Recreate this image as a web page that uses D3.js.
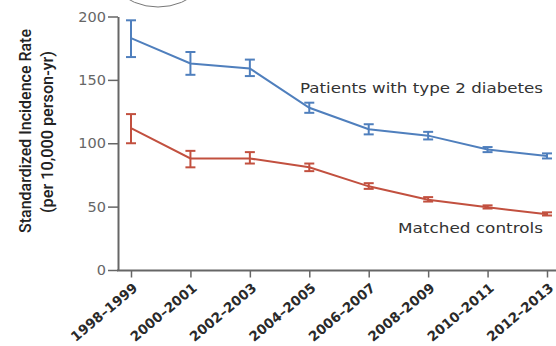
<!DOCTYPE html>
<html>
<head>
<meta charset="utf-8">
<script src="https://cdn.jsdelivr.net/npm/d3@7"></script>
<style>
  html, body { margin: 0; padding: 0; background: #fff; }
  svg { display: block; }
</style>
</head>
<body>
<svg id="chart" width="556" height="346"></svg>
<script>
// Two-year reporting periods
const periods = ["1998–1999", "2000–2001", "2002–2003", "2004–2005",
                 "2006–2007", "2008–2009", "2010–2011", "2012–2013"];

// Standardized incidence per 10,000 person-years, with 95% CI bounds
const diabetesRate = [183, 163, 159, 128, 111, 106, 95, 90];
const diabetesLow  = [168, 154, 153, 124, 107, 103, 93, 88];
const diabetesHigh = [197, 172, 166, 132, 115, 109, 97, 92];

const controlRate = [112, 88, 88, 81, 66, 55.5, 49.5, 44];
const controlLow  = [100, 81, 84, 78, 64, 54, 48.5, 43];
const controlHigh = [123, 94, 93, 84, 68.5, 57.5, 51, 45.5];

const yTicks = [0, 50, 100, 150, 200];

const series = [
  { name: "Patients with type 2 diabetes", values: diabetesRate, low: diabetesLow, high: diabetesHigh, color: "#4F7FBD" },
  { name: "Matched controls", values: controlRate, low: controlLow, high: controlHigh, color: "#C2503F" }
];

const W = 556, H = 346;
const axisX = 118, axisY = 270.5;
const svg = d3.select("#chart");

const x = d3.scalePoint().domain(periods).range([131, 547]);
const y = d3.scaleLinear().domain([0, 200]).range([270, 16.5]);

// decorative arc peeking in at the top edge
svg.append("circle")
  .attr("cx", 158).attr("cy", -54.5).attr("r", 61.5)
  .attr("fill", "none").attr("stroke", "#777").attr("stroke-width", 1);

// y axis
const yAxis = svg.append("g")
  .attr("transform", `translate(${axisX},0)`)
  .call(d3.axisLeft(y).tickValues(yTicks).tickSize(10).tickSizeOuter(0).tickPadding(2));
yAxis.select(".domain").attr("stroke", "#666").attr("stroke-width", 2);
yAxis.selectAll(".tick line").attr("stroke", "#666").attr("stroke-width", 1.5);
yAxis.selectAll(".tick text")
  .attr("fill", "#666").attr("font-family", "DejaVu Sans, sans-serif").attr("font-size", 14.5);

// x axis
const xAxis = svg.append("g")
  .attr("transform", `translate(0,${axisY})`)
  .call(d3.axisBottom(x).tickSize(7).tickSizeOuter(0));
xAxis.select(".domain").remove();
xAxis.append("line")
  .attr("x1", axisX - 1).attr("x2", W).attr("y1", 0).attr("y2", 0)
  .attr("stroke", "#666").attr("stroke-width", 2);
xAxis.selectAll(".tick line").attr("stroke", "#666").attr("stroke-width", 1.5);
xAxis.selectAll(".tick text")
  .attr("fill", "#2a2a2a")
  .attr("font-family", "DejaVu Sans, sans-serif")
  .attr("font-weight", "bold")
  .attr("font-size", 13.5)
  .attr("text-anchor", "end")
  .attr("transform", "translate(7,19) rotate(-40)")
  .attr("dy", 0)
  .attr("y", 0).attr("x", 0);

// y axis title
const title = svg.append("g").attr("font-family", "Roboto, sans-serif").attr("fill", "#222").attr("font-weight", 500);
title.append("text")
  .attr("transform", `translate(31,131) rotate(-90)`)
  .attr("text-anchor", "middle").attr("font-size", 16)
  .attr("textLength", 204).attr("lengthAdjust", "spacingAndGlyphs")
  .text("Standardized Incidence Rate");
title.append("text")
  .attr("transform", `translate(53,132) rotate(-90)`)
  .attr("text-anchor", "middle").attr("font-size", 16)
  .attr("textLength", 162).attr("lengthAdjust", "spacingAndGlyphs")
  .text("(per 10,000 person-yr)");

// lines with error bars
const line = d3.line().x((d, i) => x(periods[i])).y(d => y(d));
const capW = 5;

series.forEach(s => {
  const g = svg.append("g");
  g.append("path")
    .attr("d", line(s.values))
    .attr("fill", "none").attr("stroke", s.color).attr("stroke-width", 2);
  periods.forEach((p, i) => {
    const cx = x(p);
    g.append("line")
      .attr("x1", cx).attr("x2", cx).attr("y1", y(s.low[i])).attr("y2", y(s.high[i]))
      .attr("stroke", s.color).attr("stroke-width", 2);
    [s.low[i], s.high[i]].forEach(v => {
      g.append("line")
        .attr("x1", cx - capW).attr("x2", cx + capW).attr("y1", y(v)).attr("y2", y(v))
        .attr("stroke", s.color).attr("stroke-width", 2);
    });
  });
});

// series labels
const labels = svg.append("g")
  .attr("font-family", "DejaVu Sans, sans-serif").attr("font-size", 14).attr("fill", "#333")
  .attr("text-anchor", "end");
labels.append("text").attr("x", 543).attr("y", 93)
  .attr("textLength", 243).attr("lengthAdjust", "spacingAndGlyphs").text(series[0].name);
labels.append("text").attr("x", 543).attr("y", 233)
  .attr("textLength", 145).attr("lengthAdjust", "spacingAndGlyphs").text(series[1].name);
</script>
</body>
</html>
